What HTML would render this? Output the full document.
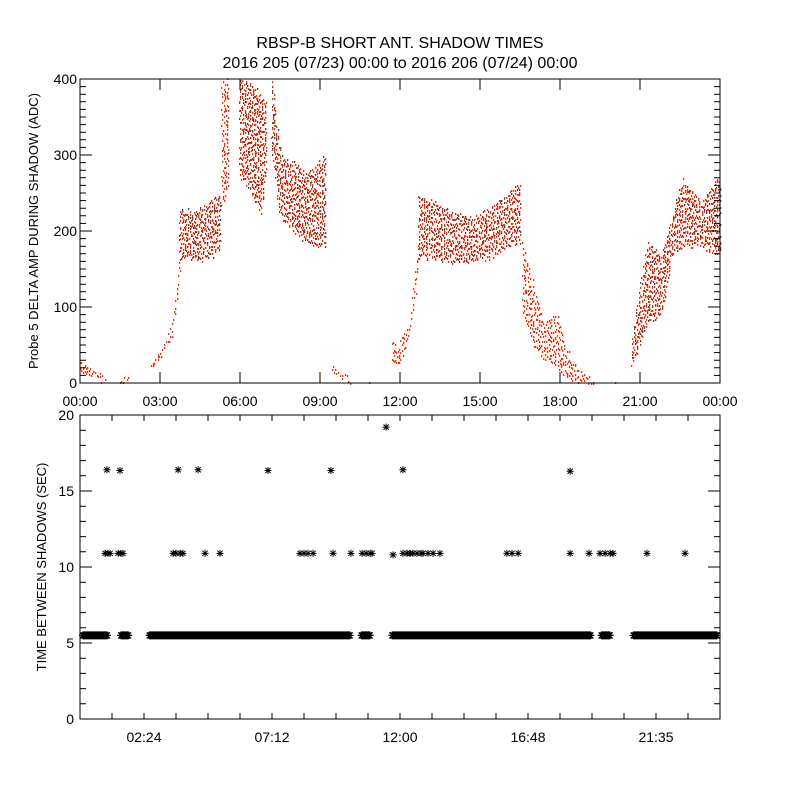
<!DOCTYPE html>
<html><head><meta charset="utf-8">
<style>
html,body{margin:0;padding:0;background:#fff;}
svg{display:block;font-family:"Liberation Sans",sans-serif;}
</style></head>
<body>
<svg id="chart" width="800" height="800" viewBox="0 0 800 800" xmlns="http://www.w3.org/2000/svg">
<rect width="800" height="800" fill="#fff"/>
<text x="400" y="48" font-size="16" text-anchor="middle">RBSP-B SHORT ANT. SHADOW TIMES</text>
<text x="400" y="68" font-size="16" text-anchor="middle">2016 205 (07/23) 00:00 to 2016 206 (07/24) 00:00</text>
<text transform="translate(38,231) rotate(-90)" font-size="13" text-anchor="middle">Probe 5 DELTA AMP DURING SHADOW (ADC)</text>
<text transform="translate(46,567) rotate(-90)" font-size="13" text-anchor="middle">TIME BETWEEN SHADOWS (SEC)</text>
<g id="topPanel"></g>
<g id="botPanel"></g>
</svg>
<script>
// ---- top panel data: envelope segments [hour, low, high] ----
const segA=[[0,15,30],[0.5,8,20],[1.0,0,6]];
const segB=[[1.5,0,4],[1.8,4,12]];
const segC=[[2.63,15,28],[3.08,38,50],[3.45,62,80],[3.64,110,130],[3.75,150,170]];
const segD=[[3.75,165,230],[4.4,160,228],[5.0,170,243],[5.25,175,245]];
const segE=[[5.3,230,400],[5.6,260,400]];
const segF=[[6.0,270,400],[6.4,250,395],[6.8,225,380],[7.0,290,370]];
const segG=[[7.2,300,400],[7.5,221,304],[8.0,200,290],[8.5,185,278],[9.2,180,300]];
const segH=[[9.45,15,25],[9.8,6,14],[10.2,0,4]];
const segI=[[10.8,0,3],[11.0,0,3]];
const segJ=[[11.7,28,55],[12.0,22,45]];
const segK=[[12.0,30,60],[12.3,55,75],[12.56,120,145],[12.7,160,190]];
const segL=[[12.7,168,251],[14.0,160,225],[14.7,158,217],[15.5,168,234],[16.3,185,260],[16.5,185,262]];
const segM=[[16.6,90,190],[17.0,50,130],[17.4,30,80],[17.9,20,90],[18.3,5,40],[18.8,0,15],[19.3,0,5]];
const segN=[[19.9,0,3],[20.2,0,3]];
const segO=[[20.7,25,60],[21.3,80,190],[21.8,90,170],[22.2,170,220],[22.6,180,270],[23.3,180,240],[23.9,170,270],[24,175,265]];
const redSegments=[segA,segB,segC,segD,segE,segF,segG,segH,segI,segJ,segK,segL,segM,segN,segO];
const graySegments=[segD,segF,segG,segL,segO];
const topYTicks=[0,100,200,300,400];
const topXTickLabels=["00:00","03:00","06:00","09:00","12:00","15:00","18:00","21:00","00:00"];
// ---- bottom panel data ----
const bandValue=5.5;
const bandSegments=[[0,1.13],[1.43,1.94],[2.5,10.25],[10.45,10.98],[11.6,19.25],[19.45,20.0],[20.65,24]];
const hours11=[0.94,1.05,1.13,1.43,1.54,1.61,3.49,3.6,3.75,3.86,4.69,5.25,8.25,8.4,8.55,8.74,9.49,10.16,10.58,10.73,10.88,10.95,12.11,12.26,12.38,12.49,12.64,12.79,12.86,13.05,13.24,13.5,16.01,16.2,16.43,18.38,19.09,19.5,19.69,19.88,19.99,21.26,22.69];
const values11=hours11.map(()=>10.9);
const extraHours=[11.74,1.01,1.5,3.68,4.43,7.05,9.41,12.11,18.38,11.48];
const extraValues=[10.8,16.4,16.35,16.4,16.4,16.35,16.35,16.4,16.3,19.2];
const botYTicks=[0,5,10,15,20];
const botXTickLabels=["02:24","07:12","12:00","16:48","21:35"];

const NS="http://www.w3.org/2000/svg";
function mk(tag,attrs,parent){const e=document.createElementNS(NS,tag);for(const k in attrs)e.setAttribute(k,attrs[k]);parent.appendChild(e);return e;}
const L=80,R=720;
const tx=h=>L+h/24*(R-L);
const tyTop=v=>383-v/400*304;
const tyBot=v=>719-v/20*304;
const topG=document.getElementById('topPanel'),botG=document.getElementById('botPanel');
function jit(a,b){const s=Math.sin(a*12.9898+b*78.233)*43758.5453;return s-Math.floor(s);}

function interp(seg,h){for(let i=0;i<seg.length-1;i++){const a=seg[i],b=seg[i+1];if(h>=a[0]&&h<=b[0]){const t=(h-a[0])/((b[0]-a[0])||1);return [a[1]+t*(b[1]-a[1]),a[2]+t*(b[2]-a[2])];}}return null;}
function drawSegments(segs,color,name,seed,step,vstep){
  let d="";
  segs.forEach(seg=>{
    const x0=Math.ceil(tx(seg[0][0])),x1=Math.floor(tx(seg[seg.length-1][0]));
    for(let x=x0;x<=Math.max(x0,x1);x+=step){
      const h=(x-L)/(R-L)*24;const r=interp(seg,h)||[seg[0][1],seg[0][2]];
      const yA=tyTop(r[1]),yB=tyTop(r[0]);
      let k=0;
      for(let y=yA+jit(x,seed)*vstep;y<=yB;y+=vstep){
        k++;
        const yy=y+(jit(x+k,seed+k)-0.5)*vstep*0.8;
        const xx=Math.round(x+(jit(k,x+seed)-0.5)*1.5);
        d+="M"+xx+" "+Math.round(yy)+"h1.3v2h-1.3z";
      }
    }
  });
  const p=mk('path',{d:d,fill:color},topG);
  
  
}
drawSegments(graySegments,'#444','gray-amplitude-points',3,2.5,7);
drawSegments(redSegments,'#ff2a00','red-amplitude-points',1,1.5,6);

function frame(g,y0,y1,name){
  const r=mk('rect',{x:L,y:y0,width:R-L,height:y1-y0,fill:'none',stroke:'#000','stroke-width':1},g);
  
  
}
frame(topG,79,383,'top-plot-frame');
let tk="";
for(let v=0;v<=400;v+=10){const y=tyTop(v);const len=v%100===0?12:6;tk+=`M${L} ${y}h${len}M${R} ${y}h${-len}`;}
for(let h=0;h<=24;h+=3){const x=tx(h);tk+=`M${x} 383v-11M${x} 79v11`;}
const tkp=mk('path',{d:tk,stroke:'#000','stroke-width':1,fill:'none'},topG);


topYTicks.forEach(v=>{const t=mk('text',{x:L-3,y:tyTop(v)+5,'font-size':14,'text-anchor':'end'},topG);t.textContent=v;

});
topXTickLabels.forEach((s,i)=>{const t=mk('text',{x:tx(i*3),y:406,'font-size':14,'text-anchor':'middle'},topG);t.textContent=s;

});

frame(botG,415,719,'bottom-plot-frame');
let bk="";
for(let v=0;v<=20;v+=1){const y=tyBot(v);const len=v%5===0?12:6;bk+=`M${L} ${y}h${len}M${R} ${y}h${-len}`;}
for(let i=0;i<=20;i++){const x=tx(i*1.2);bk+=`M${x} 719v-6M${x} 415v6`;}
const bkp=mk('path',{d:bk,stroke:'#000','stroke-width':1,fill:'none'},botG);


botYTicks.forEach(v=>{const t=mk('text',{x:L-6,y:tyBot(v)+5,'font-size':14,'text-anchor':'end'},botG);t.textContent=v;

});
botXTickLabels.forEach((s,i)=>{const t=mk('text',{x:tx(2.4+i*4.8),y:742,'font-size':14,'text-anchor':'middle'},botG);t.textContent=s;

});

function star(x,y,r){return `M${x-r} ${y}h${2*r}M${x} ${y-r}v${2*r}M${x-r*0.75} ${y-r*0.75}l${r*1.5} ${r*1.5}M${x-r*0.75} ${y+r*0.75}l${r*1.5} ${-r*1.5}`;}
let sd="";
bandSegments.forEach(s=>{for(let x=tx(s[0])+3;x<=tx(s[1])-3+0.01;x+=1){sd+=star(x,tyBot(bandValue),4);}});
const bp=mk('path',{d:sd,stroke:'#000','stroke-width':1.3,fill:'none'},botG);


let sd2="";
hours11.forEach((h,i)=>{sd2+=star(tx(h),tyBot(values11[i]),3.5);});
extraHours.forEach((h,i)=>{sd2+=star(tx(h),tyBot(extraValues[i]),3.5);});
const op=mk('path',{d:sd2,stroke:'#000','stroke-width':1,fill:'none'},botG);


</script>
</body></html>
